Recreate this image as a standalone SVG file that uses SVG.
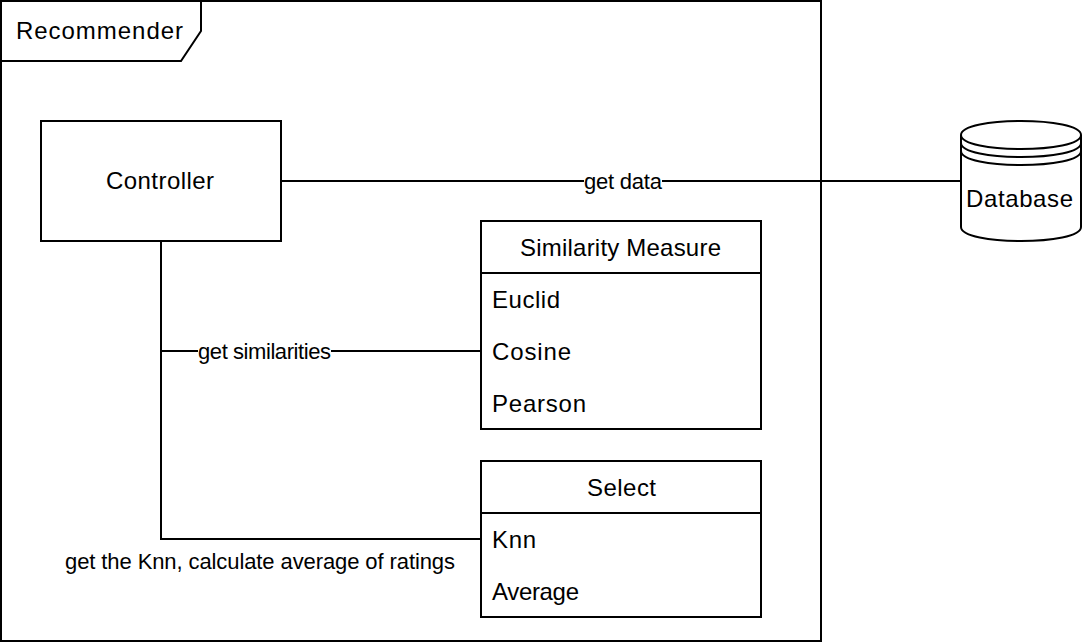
<svg xmlns="http://www.w3.org/2000/svg" width="1082" height="644" viewBox="0 0 1082 644">
<style>
text{font-family:"Liberation Sans",Arial,sans-serif;font-size:24px;fill:#000}
.s{font-size:22px}
.b{fill:#fff;stroke:#000;stroke-width:2}
.n{fill:none;stroke:#000;stroke-width:2}
</style>
<rect width="1082" height="644" fill="#fff"/>
<g id="recommender">
<rect class="b" x="1" y="1" width="820" height="640"/>
<path class="b" d="M1 1H201V31L181 61H1Z"/>
<text x="16" y="39" textLength="167">Recommender</text>
</g>
<g id="connectors">
<path class="n" d="M281 181H961"/>
<path class="n" d="M161 241V351H481"/>
<path class="n" d="M161 351V539H481"/>
<rect x="584" y="170" width="78" height="22" fill="#fff"/>
<text class="s" x="584" y="189" textLength="78">get data</text>
<rect x="198" y="340" width="133" height="22" fill="#fff"/>
<text class="s" x="198" y="359" textLength="133">get similarities</text>
<text class="s" x="65" y="569" textLength="390">get the Knn, calculate average of ratings</text>
</g>
<g id="controller">
<rect class="b" x="41" y="121" width="240" height="120"/>
<text x="106" y="189" textLength="108">Controller</text>
</g>
<g id="database">
<path class="b" d="M961 135C961 116.300 1081 116.300 1081 135V227C1081 245.700 961 245.700 961 227Z"/>
<path class="n" d="M961 135C961 153.700 1081 153.700 1081 135M961 143C961 161.700 1081 161.700 1081 143M961 151C961 169.700 1081 169.700 1081 151"/>
<text x="966" y="207" textLength="107">Database</text>
</g>
<g id="similarity">
<rect class="b" x="481" y="221" width="280" height="208"/>
<path class="n" d="M481 273H761"/>
<text x="520" y="256" textLength="201">Similarity Measure</text>
<text x="492" y="308" textLength="68">Euclid</text>
<text x="492" y="360" textLength="79">Cosine</text>
<text x="492" y="412" textLength="94">Pearson</text>
</g>
<g id="select">
<rect class="b" x="481" y="461" width="280" height="156"/>
<path class="n" d="M481 513H761"/>
<text x="587" y="496" textLength="69">Select</text>
<text x="492" y="548" textLength="44">Knn</text>
<text x="492" y="600" textLength="87">Average</text>
</g>
</svg>
